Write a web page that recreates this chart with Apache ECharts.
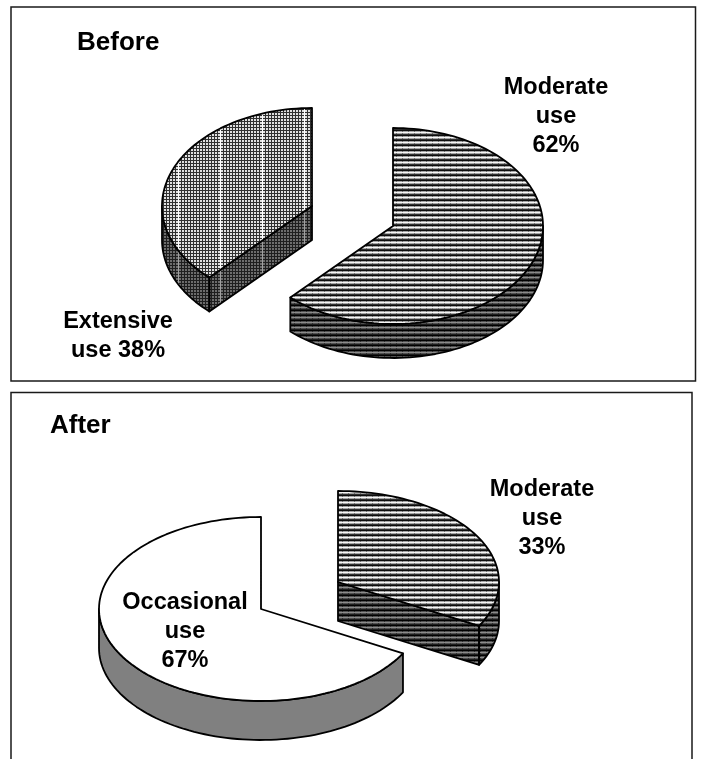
<!DOCTYPE html>
<html lang="en" style="height: 100%">
<head>
    <meta charset="utf-8">
    <title>Before / After use</title>
    <style>
        html, body { margin: 0; background: #fff; }
        #container { width: 703px; height: 759px; }
    </style>
</head>
<body>
    <div id="container"></div>
    <script src="https://cdn.jsdelivr.net/npm/echarts@6/dist/echarts.min.js"></script>
    <script>
// chart values
const beforeNames = ['Moderate', 'Extensive'];
const beforeValues = [62, 38];
const beforeLabels = ['Moderate\nuse\n62%', 'Extensive\nuse 38%'];
const afterNames = ['Moderate', 'Occasional'];
const afterValues = [33, 67];
const afterLabels = ['Moderate\nuse\n33%', 'Occasional\nuse\n67%'];

const FONT = '"Liberation Sans", Arial, sans-serif';

// hatch tiles, drawn pixel by pixel
function makeTile(w, h, paint) {
    const c = document.createElement('canvas');
    c.width = w;
    c.height = h;
    const ctx = c.getContext('2d');
    for (let y = 0; y < h; y++) {
        for (let x = 0; x < w; x++) {
            ctx.fillStyle = paint(x, y);
            ctx.fillRect(x, y, 1, 1);
        }
    }
    return { image: c, repeat: 'repeat' };
}

function stripeTile(rows, cross) {
    return makeTile(6, rows.length, (x, y) => {
        // the faint verticals do not show on the white row
        if (x === 0 && y === 1) return cross;
        if (x === 0 && y === 3) return cross;
        return rows[y];
    });
}

function gridTile(line, cell, gap) {
    return makeTile(42, 3, (x, y) => {
        if (x === 10) return gap;
        return (x % 3 === 1 || y === 1) ? line : cell;
    });
}

const looks = {
    stripe: {
        top: stripeTile(['#0e0e0e', '#a6a6a6', '#f6f6f6', '#a6a6a6', '#303030'], '#6a6a6a'),
        side: stripeTile(['#000000', '#505050', '#8a8a8a', '#505050', '#1c1c1c'], '#2c2c2c')
    },
    grid: {
        top: gridTile('#303030', '#e0e0e0', '#ffffff'),
        side: gridTile('#1e1e1e', '#6c6c6c', '#a0a0a0')
    },
    plain: { top: '#ffffff', side: '#808080' }
};

// one hidden unit grid per slice: it places the exploded slice and squashes it to an ellipse
const slices = [
    { values: beforeValues, index: 0, look: 'stripe', cx: 393, cy: 226, rx: 150, ry: 98, depth: 34 },
    { values: beforeValues, index: 1, look: 'grid', cx: 312, cy: 206, rx: 150, ry: 98, depth: 34 },
    { values: afterValues, index: 0, look: 'stripe', cx: 338, cy: 582, rx: 161, ry: 91, depth: 39 },
    { values: afterValues, index: 1, look: 'plain', cx: 261, cy: 609, rx: 162, ry: 92, depth: 39 }
];

function sliceRange(s) {
    const total = s.values.reduce((a, b) => a + b, 0);
    let start = 0;
    for (let i = 0; i < s.index; i++) start += s.values[i];
    return [start / total, (start + s.values[s.index]) / total];
}

function renderSlice(s) {
    return function (params, api) {
        const from = api.value(0);
        const to = api.value(1);
        const rim = f => {
            const a = f * Math.PI * 2;
            return api.coord([Math.sin(a), Math.cos(a)]);
        };
        const arc = (a, b) => {
            const n = Math.max(2, Math.ceil((b - a) * 180));
            const pts = [];
            for (let i = 0; i <= n; i++) pts.push(rim(a + (b - a) * i / n));
            return pts;
        };
        const drop = p => [p[0], p[1] + s.depth];
        const centre = api.coord([0, 0]);
        const stroke = { stroke: '#000', lineWidth: 1.8, lineJoin: 'round' };
        const look = looks[s.look];
        const face = pts => ({
            type: 'polygon',
            shape: { points: pts },
            style: Object.assign({ fill: look.side }, stroke)
        });
        const children = [];

        // cut faces turned toward the viewer
        if (Math.sin(to * Math.PI * 2) > 0) {
            const p = rim(to);
            children.push(face([centre, p, drop(p), drop(centre)]));
        }
        if (Math.sin(from * Math.PI * 2) < 0) {
            const p = rim(from);
            children.push(face([centre, p, drop(p), drop(centre)]));
        }
        // outer wall, only the front half of the rim shows
        const a = Math.max(from, 0.25);
        const b = Math.min(to, 0.75);
        if (b > a) {
            const front = arc(a, b);
            children.push(face(front.concat(front.slice().reverse().map(drop))));
        }
        children.push({
            type: 'polygon',
            shape: { points: [centre].concat(arc(from, to)) },
            style: Object.assign({ fill: look.top }, stroke)
        });
        return { type: 'group', children: children };
    };
}

const labelText = (text, x, y) => ({
    type: 'text',
    x: x,
    y: y,
    z: 10,
    style: {
        text: text,
        fill: '#000',
        align: 'center',
        verticalAlign: 'top',
        font: 'bold 23.5px ' + FONT,
        lineHeight: 29
    }
});

const frame = (x, y, w, h) => ({
    type: 'rect',
    shape: { x: x, y: y, width: w, height: h },
    style: { fill: 'none', stroke: '#1a1a1a', lineWidth: 1.5 }
});

const chart = echarts.init(document.getElementById('container'), null, { renderer: 'canvas' });

chart.setOption({
    animation: false,
    backgroundColor: '#fff',
    title: [
        { text: 'Before', left: 72, top: 25, textStyle: { fontFamily: FONT, fontWeight: 'bold', fontSize: 26, color: '#000' } },
        { text: 'After', left: 45, top: 408, textStyle: { fontFamily: FONT, fontWeight: 'bold', fontSize: 26, color: '#000' } }
    ],
    grid: slices.map(s => ({
        show: false,
        left: s.cx - s.rx,
        top: s.cy - s.ry,
        width: s.rx * 2,
        height: s.ry * 2
    })),
    xAxis: slices.map((s, i) => ({ type: 'value', gridIndex: i, min: -1, max: 1, show: false })),
    yAxis: slices.map((s, i) => ({ type: 'value', gridIndex: i, min: -1, max: 1, show: false })),
    series: slices.map((s, i) => ({
        type: 'custom',
        name: (s.values === beforeValues ? beforeNames : afterNames)[s.index],
        coordinateSystem: 'cartesian2d',
        xAxisIndex: i,
        yAxisIndex: i,
        silent: true,
        clip: false,
        renderItem: renderSlice(s),
        data: [sliceRange(s)]
    })),
    graphic: [
        frame(11, 7, 684.5, 374),
        frame(11, 392.5, 681, 400),
        labelText(beforeLabels[0], 556, 73),
        labelText(beforeLabels[1], 118, 307),
        labelText(afterLabels[0], 542, 475),
        labelText(afterLabels[1], 185, 588)
    ]
});
    </script>
</body>
</html>
